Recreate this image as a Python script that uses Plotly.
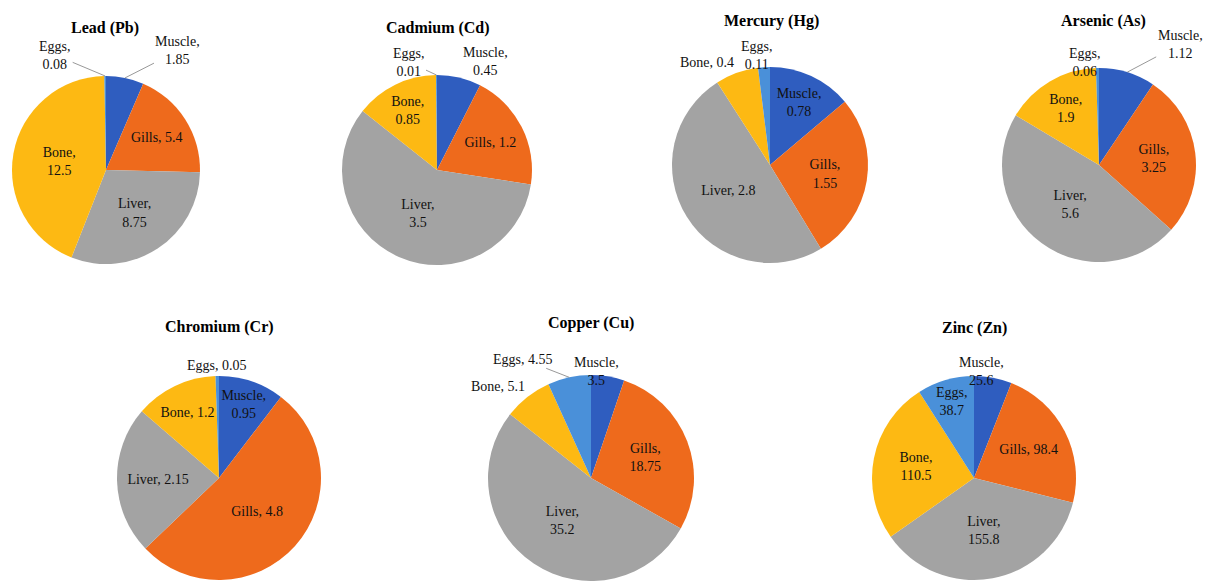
import math
import plotly.graph_objects as go

tissues = ["Muscle", "Gills", "Liver", "Bone", "Eggs"]
colors = ["#2F5DBF", "#EE6A1C", "#A3A3A3", "#FDB913", "#4A90D9"]

titles = ["Lead (Pb)", "Cadmium (Cd)", "Mercury (Hg)", "Arsenic (As)",
          "Chromium (Cr)", "Copper (Cu)", "Zinc (Zn)"]

lead = [1.85, 5.4, 8.75, 12.5, 0.08]
cadmium = [0.45, 1.2, 3.5, 0.85, 0.01]
mercury = [0.78, 1.55, 2.8, 0.4, 0.11]
arsenic = [1.12, 3.25, 5.6, 1.9, 0.06]
chromium = [0.95, 4.8, 2.15, 1.2, 0.05]
copper = [3.5, 18.75, 35.2, 5.1, 4.55]
zinc = [25.6, 98.4, 155.8, 110.5, 38.7]

values = [lead, cadmium, mercury, arsenic, chromium, copper, zinc]

# label layout: True = value on a new line
breaks = [
    [True, False, True, True, True],
    [True, False, True, True, True],
    [True, True, False, False, True],
    [True, True, True, True, True],
    [True, False, False, False, False],
    [True, True, True, False, False],
    [True, False, True, True, True],
]
# outside labels: (pie, slice) -> (dx px, dy px from slice rim, leader line)
outside = {
    (0, 0): (53, -27, True), (0, 4): (-50, -21, True),
    (1, 0): (26, -16, False), (1, 4): (-28, -13, True),
    (2, 3): (-30, -10, False), (2, 4): (-7, -12, False),
    (3, 0): (53, -28, True), (3, 4): (-12, -6, False),
    (4, 4): (0, -11, False),
    (5, 0): (-11, -5, False), (5, 3): (-29, -10, False), (5, 4): (-46, -18, True),
    (6, 0): (-12, -6, False),
}

W, H = 1208, 581
# pie centres and radii in pixels (layout)
geo = [
    (106, 170, 94), (437, 170, 95), (770, 165, 98), (1099, 165, 97),
    (219, 478, 102), (591, 478, 103), (974, 478, 102),
]
title_pos = [(105, 28), (438, 28), (771, 21), (1103, 21),
             (219, 327), (591, 323), (974, 328)]

font_family = "Liberation Serif, Times New Roman, serif"
fig = go.Figure()
for i, vals in enumerate(values):
    cx, cy, r = geo[i]
    texts = [f"{t},{'<br>' if b else ' '}{v:g}" for t, v, b in zip(tissues, vals, breaks[i])]
    tpos = ["none" if (i, j) in outside else "inside" for j in range(len(vals))]
    y0 = max(0.0, 1 - (cy + r) / H)
    y1 = min(1.0, 1 - (cy - r) / H)
    fig.add_trace(go.Pie(
        labels=tissues, values=vals, text=texts,
        texttemplate="%{text}", textposition=tpos,
        insidetextorientation="horizontal",
        sort=False, direction="clockwise", rotation=0,
        marker=dict(colors=colors, line=dict(width=0)),
        textfont=dict(family=font_family, size=14, color="#111111"),
        domain=dict(x=[(cx - r) / W, (cx + r) / W], y=[y0, y1]),
        showlegend=False, hoverinfo="label+value",
    ))
    # outside labels, anchored to the rim at each slice's mid-angle
    total = sum(vals)
    cum = 0.0
    for j, v in enumerate(vals):
        mid = (cum + v / 2) / total * 2 * math.pi
        cum += v
        if (i, j) not in outside:
            continue
        dx, dy, line = outside[(i, j)]
        px = cx + r * math.sin(mid)
        py = cy - r * math.cos(mid)
        common = dict(text=texts[j], x=px / W, y=1 - py / H, xref="paper", yref="paper",
                      font=dict(family=font_family, size=14, color="#111111"), align="center")
        if line:
            fig.add_annotation(**common, showarrow=True, ax=dx, ay=dy, arrowhead=0,
                               arrowwidth=0.9, arrowcolor="#8C8C8C", standoff=0, startstandoff=0)
        else:
            fig.add_annotation(**common, showarrow=False, xshift=dx, yshift=-dy,
                               xanchor="center", yanchor="middle")
    tx, ty = title_pos[i]
    fig.add_annotation(text=f"<b>{titles[i]}</b>", x=tx / W, y=1 - ty / H,
                       xref="paper", yref="paper", showarrow=False,
                       xanchor="center", yanchor="middle",
                       font=dict(family=font_family, size=16, color="#000000"))

fig.update_layout(
    width=W, height=H, margin=dict(l=0, r=0, t=0, b=0),
    paper_bgcolor="white", plot_bgcolor="white",
    uniformtext=dict(minsize=14, mode="show"),
)
fig.write_html("out.html", config={"displayModeBar": False},
               post_script="document.body.style.margin='0px';document.body.style.overflow='hidden';")
